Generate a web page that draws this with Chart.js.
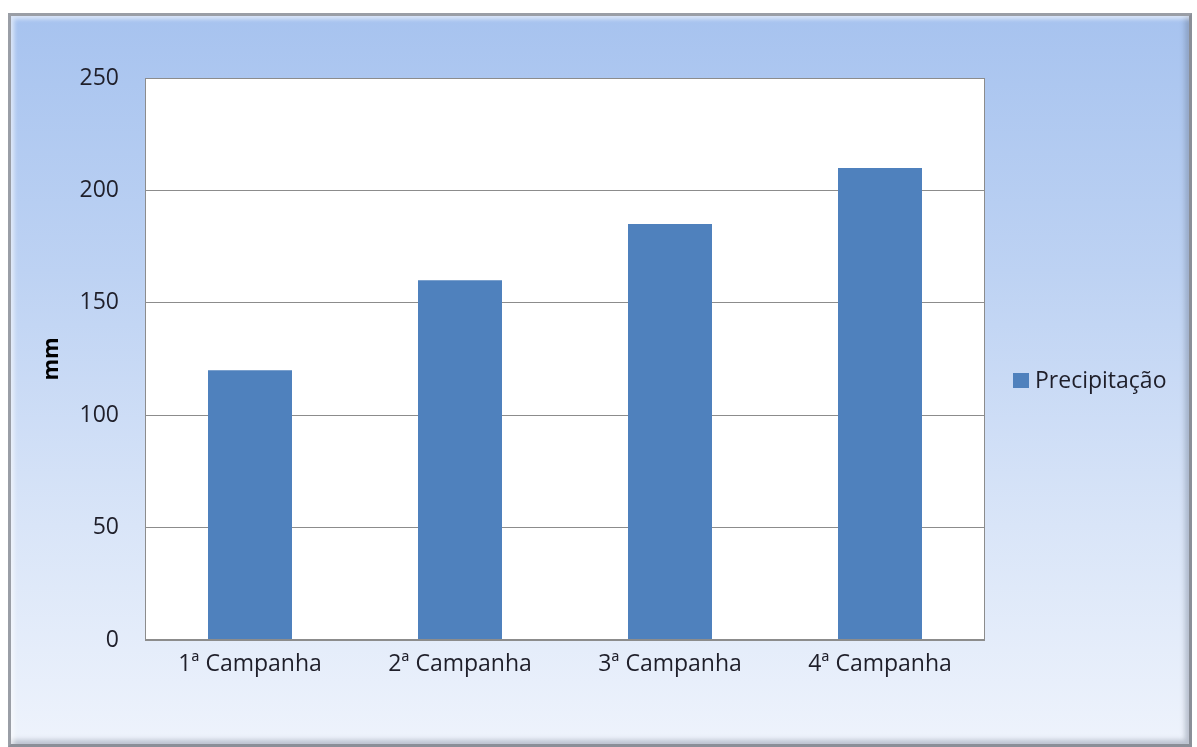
<!DOCTYPE html>
<html>
<head>
<meta charset="utf-8">
<script src="https://cdn.jsdelivr.net/npm/chart.js@4.4.1/dist/chart.umd.min.js"></script>
<style>
  html, body { margin: 0; padding: 0; background: #ffffff; }
  #wrap { position: relative; width: 1197px; height: 747px; overflow: hidden; background: #ffffff; }
  #frame {
    position: absolute; left: 8px; top: 13px; width: 1178px; height: 728px;
    border: 3px solid #8a8f98;
    border-top-color: #9a9ea6; border-left-color: #9a9ea6;
    background: linear-gradient(to bottom, #a7c3ef 0%, #bdd2f3 35%, #d9e5f8 70%, #eef3fc 100%);
    box-shadow: inset 3px 3px 4px rgba(255,255,255,0.6), inset -4px -4px 5px rgba(90,100,120,0.35);
  }
  #c { position: absolute; left: 0; top: 0; }
</style>
</head>
<body>
<div id="wrap">
  <div id="frame"></div>
  <canvas id="c" width="1197" height="747"></canvas>
</div>
<script>
const categories = ['1ª Campanha', '2ª Campanha', '3ª Campanha', '4ª Campanha'];
const seriesName = 'Precipitação';
const precipitacao = [120, 160, 185, 210];
const yTicks = [0, 50, 100, 150, 200, 250];
const yTitle = 'mm';

const FONT = "'Open Sans', 'DejaVu Sans', sans-serif";
const BAR_COLOR = '#4f81bd';

const customLegend = {
  id: 'customLegend',
  afterDraw(chart) {
    const ctx = chart.ctx;
    const ds = chart.data.datasets[0];
    ctx.save();
    ctx.fillStyle = ds.backgroundColor;
    ctx.fillRect(1013, 373, 16, 15);
    ctx.fillStyle = '#1f1f2a';
    ctx.font = "23px " + FONT;
    ctx.textBaseline = 'middle';
    ctx.textAlign = 'left';
    ctx.fillText(ds.label, 1035, 381);
    ctx.restore();
  }
};

const plotBg = {
  id: 'plotBg',
  beforeDraw(chart) {
    const {ctx, chartArea} = chart;
    ctx.save();
    ctx.fillStyle = '#ffffff';
    ctx.fillRect(chartArea.left, chartArea.top, chartArea.right - chartArea.left, chartArea.bottom - chartArea.top);
    ctx.restore();
  },
  afterDatasetsDraw(chart) {
    const {ctx, chartArea} = chart;
    ctx.save();
    ctx.strokeStyle = '#8c8c8c';
    ctx.lineWidth = 1;
    ctx.strokeRect(chartArea.left + 0.5, chartArea.top + 0.5, chartArea.right - chartArea.left - 1, chartArea.bottom - chartArea.top - 1);
    ctx.restore();
  }
};

new Chart(document.getElementById('c'), {
  type: 'bar',
  data: {
    labels: categories,
    datasets: [{
      label: seriesName,
      data: precipitacao,
      backgroundColor: BAR_COLOR,
      borderWidth: 0,
      categoryPercentage: 1.0,
      barPercentage: 0.4
    }]
  },
  options: {
    responsive: false,
    animation: false,
    events: [],
    layout: { padding: { top: 78, right: 212, bottom: 0, left: 0 } },
    plugins: {
      legend: { display: false },
      tooltip: { enabled: false }
    },
    scales: {
      x: {
        grid: { display: false, drawTicks: false },
        border: { display: false },
        ticks: {
          color: '#1f1f2a',
          font: { family: FONT, size: 23 },
          padding: 11,
          maxRotation: 0
        },
        afterFit(scale) { scale.height = 107; }
      },
      y: {
        min: 0, max: 250,
        afterBuildTicks(scale) { scale.ticks = yTicks.map(v => ({ value: v })); },
        grid: { color: '#8c8c8c', lineWidth: 1, drawTicks: false },
        border: { display: false },
        ticks: {
          color: '#1f1f2a',
          font: { family: FONT, size: 23 },
          padding: 26
        },
        title: {
          display: true,
          text: yTitle,
          color: '#000000',
          font: { family: FONT, size: 22, weight: 'bold' },
          padding: { top: 39, bottom: 0 }
        },
        afterFit(scale) { scale.width = 145; }
      }
    }
  },
  plugins: [plotBg, customLegend]
});
</script>
</body>
</html>
